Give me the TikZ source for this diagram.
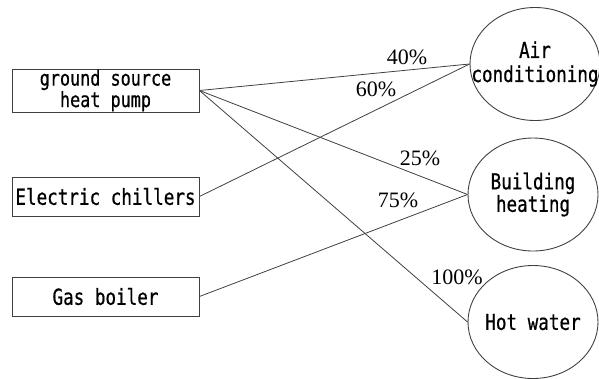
\documentclass[tikz,border=0pt]{standalone}
\usepackage{fontspec}
\setmainfont{Liberation Serif}
\newfontfamily\boxfont[FakeStretch=0.8,FakeBold=0.6]{DejaVu Sans Mono}
\usetikzlibrary{shapes.geometric}
\tikzset{
  box/.style={draw=black!75, line width=0.9bp, minimum width=187bp, inner sep=0pt, font=\boxfont\fontsize{22bp}{17bp}\selectfont, align=center},
  ell/.style={draw=black!75, line width=0.9bp, ellipse, minimum width=130bp, minimum height=113bp, inner sep=0pt},
  etext/.style={font=\boxfont\fontsize{22bp}{18bp}\selectfont, align=center, inner sep=0pt},
  conn/.style={draw=black!75, line width=0.8bp},
  pct/.style={font=\fontsize{22bp}{24bp}\selectfont, inner sep=0pt}
}
\begin{document}
\begin{tikzpicture}[x=1bp,y=-1bp]
\useasboundingbox (0,0) rectangle (599,378);
\node[box, minimum height=43bp, font=\boxfont\fontsize{21bp}{17bp}\selectfont] (gshp) at (105.5,90.5) {ground source\\heat pump};
\node[box, minimum height=39bp] (ec) at (105.5,196.5) {Electric chillers};
\node[box, minimum height=39bp] (gb) at (105.5,296.5) {Gas boiler};
\node[ell] (ac) at (535,64) {};
\node[etext] (act) at (ac) {Air\\[6bp]conditioning};
\node[ell] (bh) at (533,194.5) {};
\node[etext] (bht) at (bh) {Building\\heating};
\node[ell] (hw) at (533,322) {};
\node[etext] (hwt) at (hw) {Hot water};
\draw[conn] (gshp.east) -- (ac.west);
\draw[conn] (gshp.east) -- (bh.west);
\draw[conn] (gshp.east) -- (hw.west);
\draw[conn] (ec.east) -- (ac.west);
\draw[conn] (gb.east) -- (bh.west);
\node[pct] (p40) at (407,57) {40\%};
\node[pct] (p60) at (376,89) {60\%};
\node[pct] (p25) at (420,158) {25\%};
\node[pct] (p75) at (398,200) {75\%};
\node[pct] (p100) at (457,277) {100\%};
\end{tikzpicture}
\end{document}
